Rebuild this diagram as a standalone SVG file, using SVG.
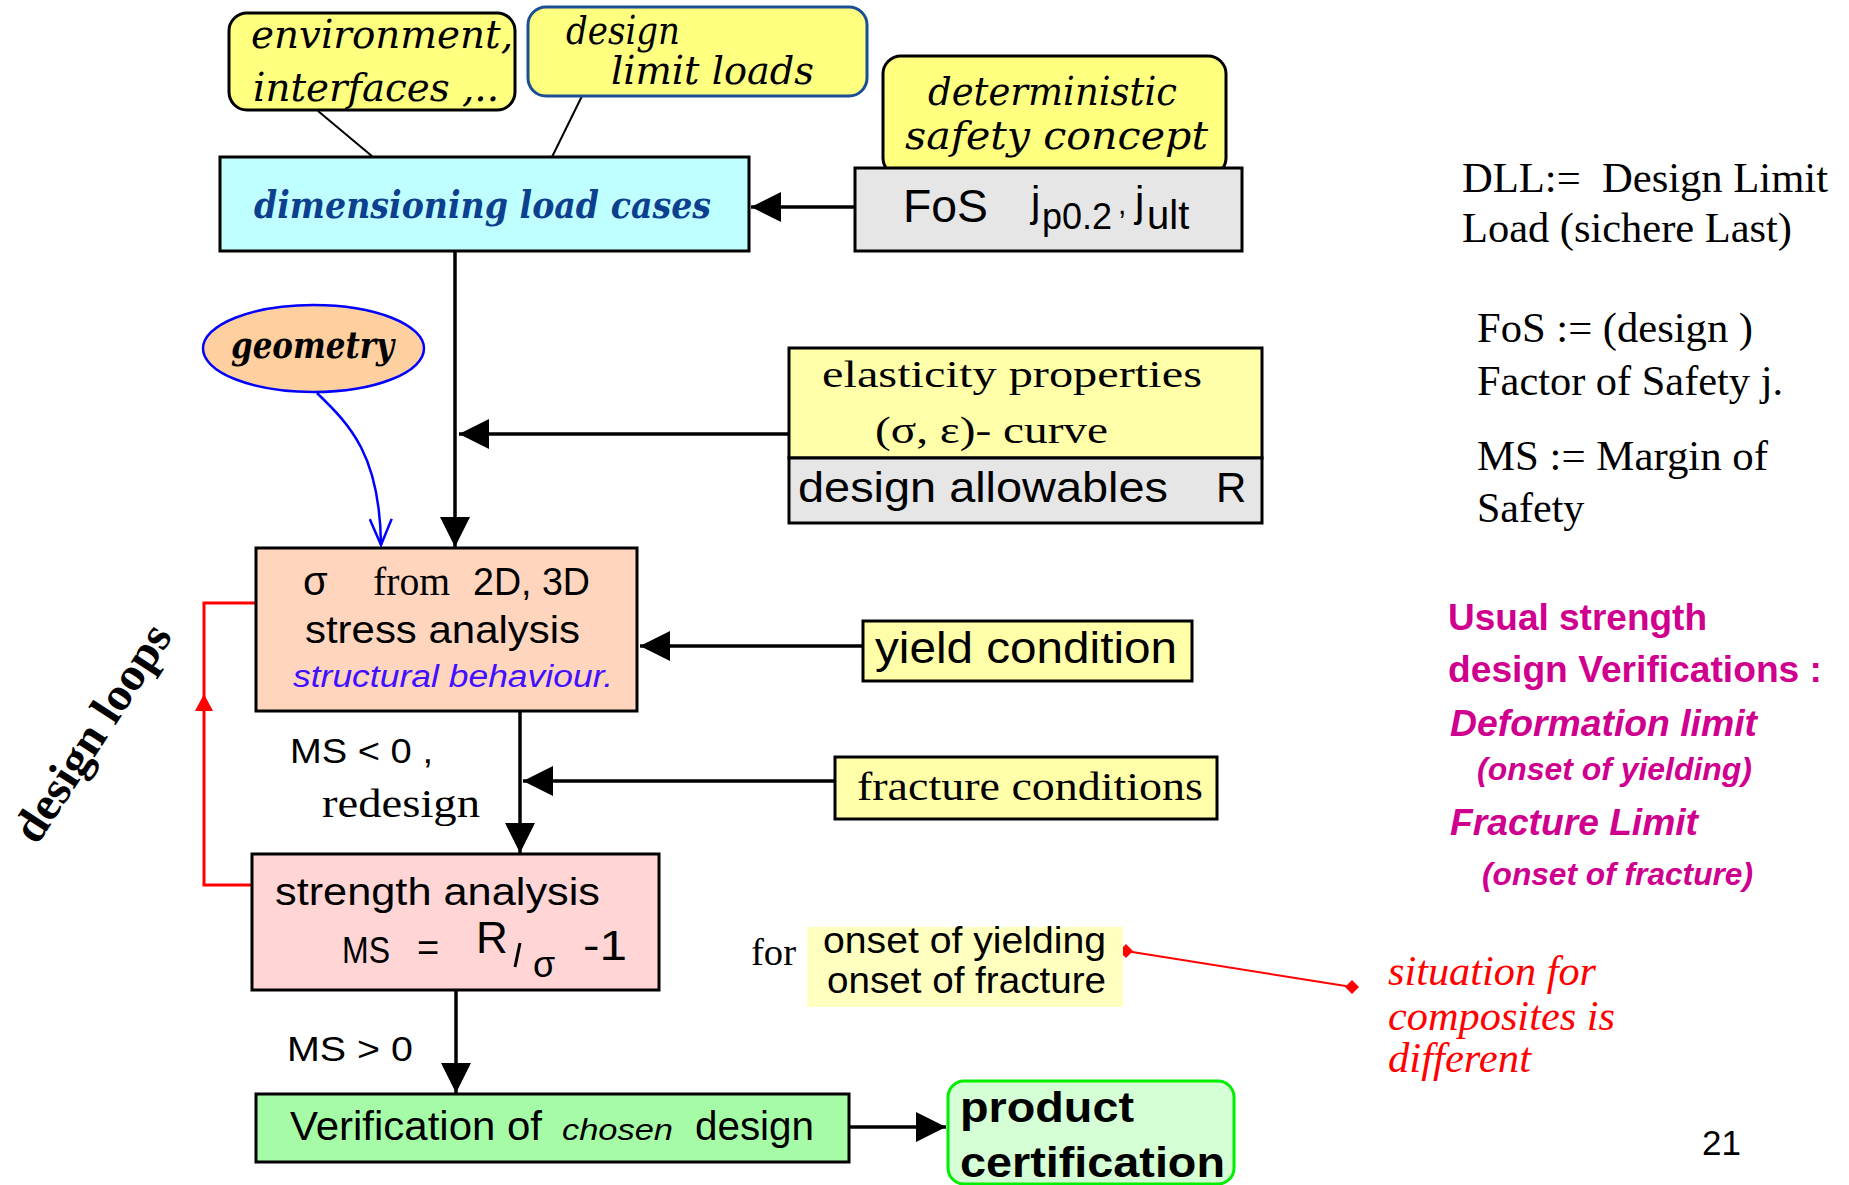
<svg xmlns="http://www.w3.org/2000/svg" width="1849" height="1185" viewBox="0 0 1849 1185">
  <style>
    .box{stroke:#000;stroke-width:3}
    .call{fill:#FFFF80;stroke:#000;stroke-width:3}
    .callt{font-family:"DejaVu Serif","Liberation Serif",serif;font-style:italic;font-size:40px;fill:#000}
    .sans{font-family:"Liberation Sans",Arial,sans-serif;fill:#000}
    .serif{font-family:"Liberation Serif","Times New Roman",serif;fill:#000}
    .conn{stroke:#000;stroke-width:3.5;fill:none}
    .thin{stroke:#000;stroke-width:2;fill:none}
    .note{font-family:"Liberation Serif","Times New Roman",serif;font-size:42px;fill:#000}
    .mag{font-family:"Liberation Sans",Arial,sans-serif;font-weight:bold;fill:#D0008F}
    .red{font-family:"Liberation Serif","Times New Roman",serif;font-style:italic;font-size:42px;fill:#FF0000}
  </style>
  <defs>
    <marker id="ah" viewBox="0 0 30 30" refX="30" refY="15" markerWidth="30" markerHeight="30" orient="auto" markerUnits="userSpaceOnUse">
      <path d="M0,0 L30,15 L0,30 Z" fill="#000"/>
    </marker>
    <marker id="vee" viewBox="0 0 30 24" refX="28" refY="12" markerWidth="30" markerHeight="24" orient="auto" markerUnits="userSpaceOnUse">
      <path d="M2,1 L28,12 L2,23" fill="none" stroke="#0000FF" stroke-width="2.5"/>
    </marker>
  </defs>

  <rect x="0" y="0" width="1849" height="1185" fill="#fff"/>

  <!-- connectors -->
  <g id="connectors">
    <line class="thin" x1="318" y1="111" x2="373" y2="157"/>
    <line class="thin" x1="582" y1="96" x2="552" y2="157"/>
    <line class="conn" x1="855" y1="207" x2="751" y2="207" marker-end="url(#ah)"/>
    <line class="conn" x1="455" y1="251" x2="455" y2="547" marker-end="url(#ah)"/>
    <line class="conn" x1="789" y1="434" x2="459" y2="434" marker-end="url(#ah)"/>
    <path d="M317,393 C350,425 380,455 381,545" fill="none" stroke="#0000FF" stroke-width="2.5" marker-end="url(#vee)"/>
    <line class="conn" x1="863" y1="646" x2="640" y2="646" marker-end="url(#ah)"/>
    <line class="conn" x1="520" y1="711" x2="520" y2="853" marker-end="url(#ah)"/>
    <line class="conn" x1="835" y1="781" x2="523" y2="781" marker-end="url(#ah)"/>
    <line class="conn" x1="456" y1="990" x2="456" y2="1093" marker-end="url(#ah)"/>
    <line class="conn" x1="849" y1="1127" x2="946" y2="1127" marker-end="url(#ah)"/>
    <!-- design loop (red) -->
    <polyline points="256,603 204,603 204,885 252,885" fill="none" stroke="#FF0000" stroke-width="3"/>
    <path d="M204,694 L213,711 L195,711 Z" fill="#FF0000"/>
    <!-- composites remark -->
    <line x1="1126" y1="951" x2="1352" y2="987" stroke="#FF0000" stroke-width="2"/>
    <path d="M1126,944 L1133,951 L1126,958 L1119,951 Z" fill="#FF0000"/>
    <path d="M1352,980 L1359,987 L1352,994 L1345,987 Z" fill="#FF0000"/>
  </g>

  <!-- callouts -->
  <g id="environment">
    <rect class="call" x="229" y="13" width="286" height="97" rx="18"/>
    <text class="callt" x="251" y="48" textLength="262" lengthAdjust="spacingAndGlyphs">environment,</text>
    <text class="callt" x="253" y="101" textLength="246" lengthAdjust="spacingAndGlyphs">interfaces ,..</text>
  </g>
  <g id="design-limit-loads">
    <rect x="528" y="7" width="339" height="89" rx="18" fill="#FFFF80" stroke="#1A4F95" stroke-width="3"/>
    <text class="callt" x="566" y="44" font-size="38" textLength="114" lengthAdjust="spacingAndGlyphs">design</text>
    <text class="callt" x="611" y="84" textLength="203" lengthAdjust="spacingAndGlyphs">limit  loads</text>
  </g>
  <g id="deterministic">
    <rect class="call" x="883" y="56" width="343" height="120" rx="18"/>
    <text class="callt" x="928" y="105" textLength="249" lengthAdjust="spacingAndGlyphs">deterministic</text>
    <text class="callt" x="905" y="149" textLength="303" lengthAdjust="spacingAndGlyphs">safety  concept</text>
  </g>

  <g id="dimensioning">
    <rect class="box" x="220" y="157" width="529" height="94" fill="#C0FFFF"/>
    <text x="254" y="218" textLength="457" lengthAdjust="spacingAndGlyphs" font-family="'DejaVu Serif','Liberation Serif',serif" font-weight="bold" font-style="italic" font-size="38" fill="#0D3F8F">dimensioning  load  cases</text>
  </g>

  <g id="fos">
    <rect class="box" x="855" y="168" width="387" height="83" fill="#E6E6E6"/>
    <text class="sans" font-size="46">
      <tspan x="903" y="222" textLength="85" lengthAdjust="spacingAndGlyphs">FoS</tspan>
      <tspan x="1031" y="216" font-size="42">j</tspan>
      <tspan x="1042" y="229" font-size="36">p0.2</tspan>
      <tspan x="1118" y="214" font-size="30">,</tspan>
      <tspan x="1135" y="216" font-size="42">j</tspan>
      <tspan x="1147" y="229" font-size="40">ult</tspan>
    </text>
  </g>

  <g id="geometry">
    <ellipse cx="313.5" cy="348.5" rx="110.5" ry="43.5" fill="#FFD09F" stroke="#0000FF" stroke-width="2.5"/>
    <text x="231" y="358" textLength="163" lengthAdjust="spacingAndGlyphs" font-family="'DejaVu Serif','Liberation Serif',serif" font-weight="bold" font-style="italic" font-size="38" fill="#000">geometry</text>
  </g>

  <g id="elasticity">
    <rect class="box" x="789" y="348" width="473" height="110" fill="#FFFFAA"/>
    <rect class="box" x="789" y="458" width="473" height="65" fill="#E6E6E6"/>
    <text class="serif" x="822" y="387" font-size="38" textLength="380" lengthAdjust="spacingAndGlyphs">elasticity  properties</text>
    <text class="serif" x="875" y="443" font-size="38" textLength="233" lengthAdjust="spacingAndGlyphs">(σ, ε)- curve</text>
    <text class="sans" x="798" y="502" font-size="42" textLength="370" lengthAdjust="spacingAndGlyphs">design allowables</text>
    <text class="sans" x="1216" y="502" font-size="42">R</text>
  </g>

  <g id="stress">
    <rect class="box" x="256" y="548" width="381" height="163" fill="#FFD5BE"/>
    <text class="sans" x="303" y="595" font-size="40">σ</text>
    <text class="serif" x="373" y="595" font-size="40" textLength="77" lengthAdjust="spacingAndGlyphs">from</text>
    <text class="sans" x="473" y="595" font-size="38" textLength="117" lengthAdjust="spacingAndGlyphs">2D, 3D</text>
    <text class="sans" x="305" y="643" font-size="38" textLength="275" lengthAdjust="spacingAndGlyphs">stress  analysis</text>
    <text class="sans" x="293" y="687" font-size="31" font-style="italic" style="fill:#4010FF" textLength="320" lengthAdjust="spacingAndGlyphs">structural behaviour.</text>
  </g>

  <text class="sans" x="290" y="763" font-size="35" textLength="143" lengthAdjust="spacingAndGlyphs">MS &lt; 0 ,</text>
  <text class="serif" x="322" y="817" font-size="40" textLength="158" lengthAdjust="spacingAndGlyphs">redesign</text>

  <g id="yield">
    <rect class="box" x="863" y="621" width="329" height="60" fill="#FFFFAA"/>
    <text class="sans" x="875" y="663" font-size="44" textLength="302" lengthAdjust="spacingAndGlyphs">yield condition</text>
  </g>

  <g id="fracture">
    <rect class="box" x="835" y="757" width="382" height="62" fill="#FFFFAA"/>
    <text class="serif" x="857" y="800" font-size="40" textLength="346" lengthAdjust="spacingAndGlyphs">fracture conditions</text>
  </g>

  <g id="strength">
    <rect class="box" x="252" y="854" width="407" height="136" fill="#FFD5D5"/>
    <text class="sans" x="275" y="905" font-size="38" textLength="325" lengthAdjust="spacingAndGlyphs">strength  analysis</text>
    <text class="sans" x="342" y="963" font-size="36" textLength="48" lengthAdjust="spacingAndGlyphs">MS</text>
    <text class="sans" x="417" y="961" font-size="38">=</text>
    <text class="sans" x="476" y="953" font-size="44">R</text>
    <line x1="520" y1="943" x2="515" y2="967" stroke="#000" stroke-width="3"/>
    <text class="sans" x="533" y="977" font-size="36">σ</text>
    <text class="sans" x="583" y="960" font-size="42" textLength="44" lengthAdjust="spacingAndGlyphs">-1</text>
  </g>

  <text class="sans" x="287" y="1061" font-size="35" textLength="126" lengthAdjust="spacingAndGlyphs">MS &gt; 0</text>

  <g id="verification">
    <rect class="box" x="256" y="1094" width="593" height="68" fill="#A6FCA6"/>
    <text class="sans" x="290" y="1140" font-size="40" textLength="252" lengthAdjust="spacingAndGlyphs">Verification of</text>
    <text class="sans" x="562" y="1140" font-size="30" font-style="italic" textLength="111" lengthAdjust="spacingAndGlyphs">chosen</text>
    <text class="sans" x="695" y="1140" font-size="40" textLength="119" lengthAdjust="spacingAndGlyphs">design</text>
  </g>

  <g id="product">
    <rect x="948" y="1081" width="286" height="103" rx="16" fill="#D5FFD5" stroke="#00EE00" stroke-width="3"/>
    <text class="sans" x="960" y="1122" font-size="42" font-weight="bold" textLength="174" lengthAdjust="spacingAndGlyphs">product</text>
    <text class="sans" x="960" y="1177" font-size="42" font-weight="bold" textLength="265" lengthAdjust="spacingAndGlyphs">certification</text>
  </g>

  <g id="onset">
    <text class="serif" x="751" y="965" font-size="38" textLength="45" lengthAdjust="spacingAndGlyphs">for</text>
    <rect x="807" y="927" width="316" height="80" fill="#FFFFC0"/>
    <text class="sans" x="823" y="953" font-size="36" textLength="283" lengthAdjust="spacingAndGlyphs">onset of yielding</text>
    <text class="sans" x="827" y="993" font-size="36" textLength="279" lengthAdjust="spacingAndGlyphs">onset of fracture</text>
  </g>

  <text transform="translate(37,846) rotate(-57)" font-family="'Liberation Serif','Times New Roman',serif" font-weight="bold" font-size="47" textLength="250" lengthAdjust="spacingAndGlyphs" fill="#000">design loops</text>

  <!-- definitions -->
  <g id="definitions">
    <text class="note" x="1462" y="192" textLength="366" lengthAdjust="spacingAndGlyphs" xml:space="preserve">DLL:=  Design Limit</text>
    <text class="note" x="1462" y="242" textLength="330" lengthAdjust="spacingAndGlyphs">Load (sichere Last)</text>
    <text class="note" x="1477" y="342" textLength="276" lengthAdjust="spacingAndGlyphs">FoS := (design )</text>
    <text class="note" x="1477" y="395" textLength="306" lengthAdjust="spacingAndGlyphs">Factor of Safety j.</text>
    <text class="note" x="1477" y="470" textLength="291" lengthAdjust="spacingAndGlyphs">MS := Margin of</text>
    <text class="note" x="1477" y="522">Safety</text>
  </g>

  <g id="verifications">
    <text class="mag" x="1448" y="630" font-size="37">Usual strength</text>
    <text class="mag" x="1448" y="682" font-size="37" textLength="374" lengthAdjust="spacingAndGlyphs">design Verifications :</text>
    <text class="mag" x="1450" y="736" font-size="37" font-style="italic" textLength="307" lengthAdjust="spacingAndGlyphs">Deformation limit</text>
    <text class="mag" x="1477" y="780" font-size="32" font-style="italic" textLength="275" lengthAdjust="spacingAndGlyphs">(onset of yielding)</text>
    <text class="mag" x="1450" y="835" font-size="37" font-style="italic" textLength="248" lengthAdjust="spacingAndGlyphs">Fracture Limit</text>
    <text class="mag" x="1482" y="885" font-size="32" font-style="italic" textLength="271" lengthAdjust="spacingAndGlyphs">(onset of fracture)</text>
  </g>

  <g id="composites">
    <text class="red" x="1388" y="985" textLength="208" lengthAdjust="spacingAndGlyphs">situation for</text>
    <text class="red" x="1388" y="1030" textLength="227" lengthAdjust="spacingAndGlyphs">composites is</text>
    <text class="red" x="1388" y="1072" textLength="143" lengthAdjust="spacingAndGlyphs">different</text>
  </g>

  <text class="sans" x="1702" y="1155" font-size="35">21</text>
</svg>
